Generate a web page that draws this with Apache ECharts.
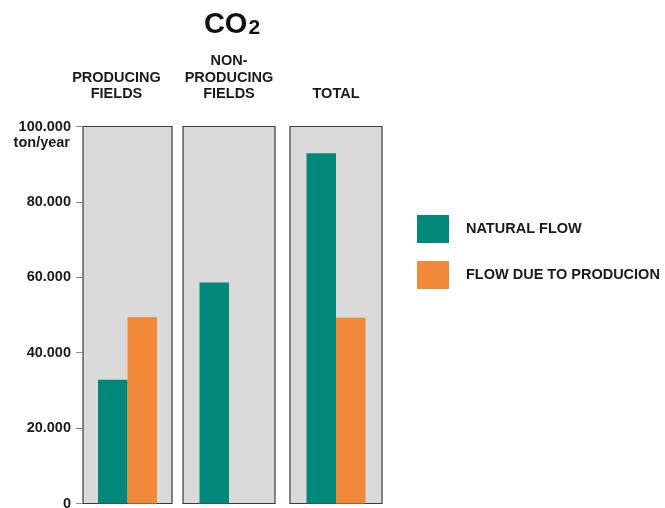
<!DOCTYPE html>
<html><head><meta charset="utf-8">
<script src="https://cdn.jsdelivr.net/npm/echarts@6/dist/echarts.min.js"></script>
<style>html,body{margin:0;padding:0;background:#fff}#c{width:665px;height:508px}</style>
</head><body><div id="c"></div>
<script>
var categories = ['PRODUCING\nFIELDS', 'NON-\nPRODUCING\nFIELDS', 'TOTAL'];
var seriesNames = ['NATURAL FLOW', 'FLOW DUE TO PRODUCION'];
var naturalFlow = [32800, 58600, 92900];
var productionFlow = [49400, null, 49300];
var yTicks = [0, 20000, 40000, 60000, 80000, 100000];
var unitLabel = 'ton/year';

var FONT = '"Liberation Sans", Arial, Helvetica, sans-serif';
var TEAL = '#00887a', ORANGE = '#f0893a', GREY = '#dadada';
var panels = [{left: 83, width: 89, pad: [0, 22, 0, 0]}, {left: 183, width: 92, pad: 0}, {left: 290, width: 92, pad: 0}];

var grids = [], xAxes = [], yAxes = [], series = [];
panels.forEach(function (p, i) {
  grids.push({left: p.left, width: p.width, top: 126.5, bottom: 4.5, show: true,
    outerBoundsMode: 'none',
    backgroundColor: GREY, borderColor: '#3a3a3a', borderWidth: 1.2, containLabel: false});
  xAxes.push({type: 'category', gridIndex: i, position: 'top', data: [categories[i]],
    axisLine: {show: false}, axisTick: {show: false},
    axisLabel: {margin: 24, fontFamily: FONT, fontWeight: 'bold', fontSize: 14.5, color: '#1a1a1a',
      lineHeight: 16.5, padding: p.pad, align: 'center'}});
  yAxes.push({type: 'value', gridIndex: i, min: yTicks[0], max: yTicks[yTicks.length - 1], interval: 20000,
    show: i === 0, splitLine: {show: false}, axisLine: {show: false},
    axisTick: {show: true, length: 7, lineStyle: {color: '#888'}},
    axisLabel: {show: true, margin: 12, fontFamily: FONT, fontWeight: 'bold', fontSize: 14.5, color: '#1a1a1a',
      formatter: function (v) { return v === 0 ? '0' : (v / 1000) + '.000'; }}});
  series.push({type: 'bar', name: seriesNames[0], xAxisIndex: i, yAxisIndex: i, data: [naturalFlow[i]],
    barWidth: 29.5, barGap: '0%', itemStyle: {color: TEAL}});
  series.push({type: 'bar', name: seriesNames[1], xAxisIndex: i, yAxisIndex: i, data: [productionFlow[i]],
    barWidth: 29.5, barGap: '0%', itemStyle: {color: ORANGE}});
});

var chart = echarts.init(document.getElementById('c'), null, {renderer: 'canvas'});
chart.setOption({
  animation: false,
  title: {text: '{a|CO}{b|2}', left: 227, textAlign: 'center', top: 5,
    textStyle: {rich: {
      a: {fontFamily: FONT, fontWeight: 'bold', fontSize: 29, color: '#111', verticalAlign: 'bottom'},
      b: {fontFamily: FONT, fontWeight: 'bold', fontSize: 21, color: '#111', verticalAlign: 'bottom', padding: [0, 0, 0, 1]}}}},
  legend: {orient: 'vertical', left: 417, top: 215, padding: 0, itemWidth: 32, itemHeight: 28, itemGap: 18,
    icon: 'rect', data: seriesNames,
    textStyle: {fontFamily: FONT, fontWeight: 'bold', fontSize: 14.5, color: '#1a1a1a', padding: [0, 0, 0, 12]}},
  grid: grids, xAxis: xAxes, yAxis: yAxes, series: series,
  graphic: [{type: 'text', right: 665 - 70, top: 135,
    style: {text: unitLabel, fontFamily: FONT, fontWeight: 'bold', fontSize: 14.5, fill: '#1a1a1a', textAlign: 'right'}}]
});
</script></body></html>
